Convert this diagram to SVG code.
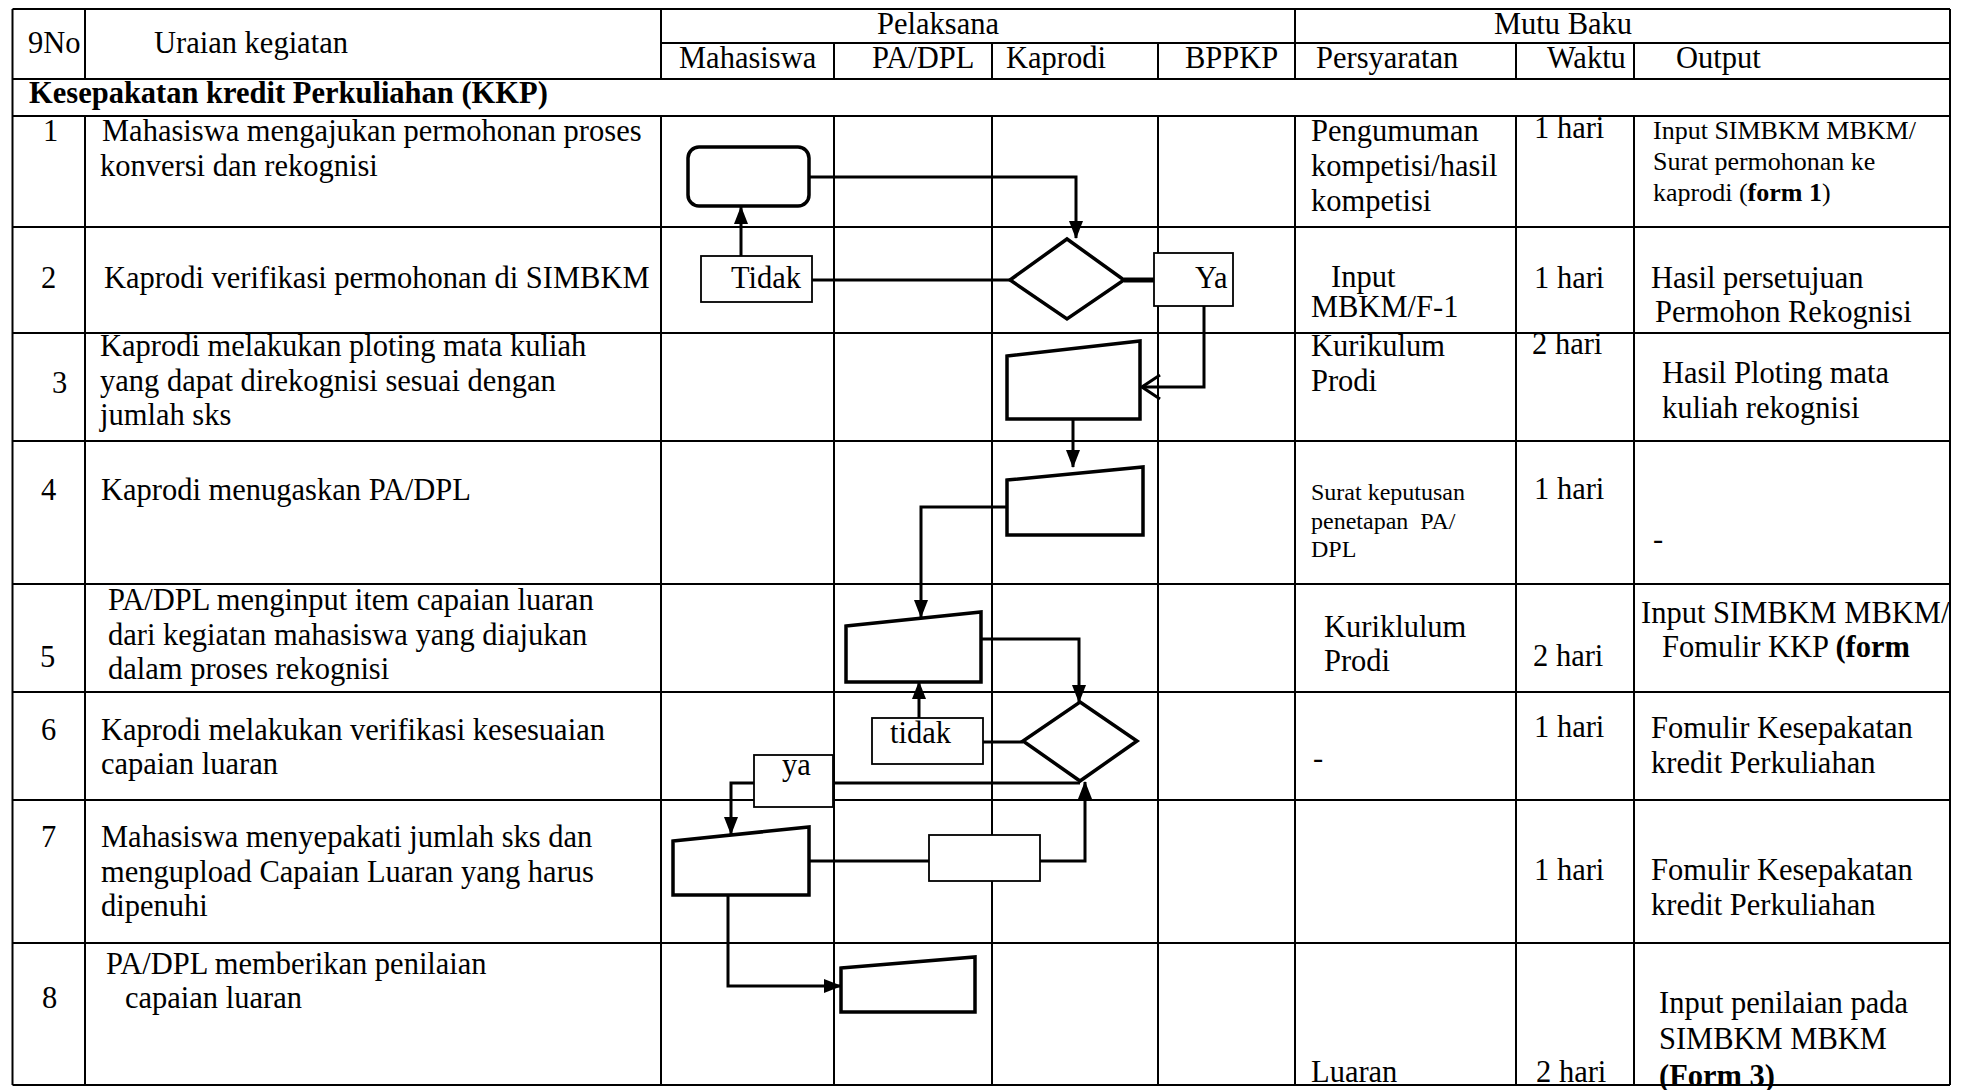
<svg xmlns="http://www.w3.org/2000/svg" width="1962" height="1090" viewBox="0 0 1962 1090">
<style>
text{font-family:"Liberation Serif","Times New Roman",serif;fill:#000}
.t{font-size:30.5px}
.s{font-size:26px}
.xs{font-size:24px}
.b{font-weight:bold}
.grid line{stroke:#000;stroke-width:2}
.shape{fill:#fff;stroke:#000;stroke-width:3.5}
.lbl{fill:#fff;stroke:#000;stroke-width:1.8}
.conn path{fill:none;stroke:#000;stroke-width:3}
</style>
<defs>
<marker id="arr" viewBox="0 0 18 14" refX="17" refY="7" markerWidth="18" markerHeight="14" markerUnits="userSpaceOnUse" orient="auto"><path d="M0,0 L18,7 L0,14 z" fill="#000"/></marker>
<marker id="open" viewBox="0 0 20 26" refX="19" refY="13" markerWidth="20" markerHeight="26" markerUnits="userSpaceOnUse" orient="auto"><path d="M1,1 L19,13 L1,25" fill="none" stroke="#000" stroke-width="3"/></marker>
</defs>
<rect width="1962" height="1090" fill="#fff"/>

<g class="grid">
<line x1="12.5" y1="9" x2="12.5" y2="1085"/>
<line x1="1950" y1="9" x2="1950" y2="1085"/>
<line x1="85" y1="9" x2="85" y2="78"/><line x1="85" y1="116" x2="85" y2="1085"/>
<line x1="661" y1="9" x2="661" y2="78"/><line x1="661" y1="116" x2="661" y2="1085"/>
<line x1="834" y1="43" x2="834" y2="78"/><line x1="834" y1="116" x2="834" y2="1085"/>
<line x1="992" y1="43" x2="992" y2="78"/><line x1="992" y1="116" x2="992" y2="1085"/>
<line x1="1158" y1="43" x2="1158" y2="78"/><line x1="1158" y1="116" x2="1158" y2="1085"/>
<line x1="1295" y1="9" x2="1295" y2="78"/><line x1="1295" y1="116" x2="1295" y2="1085"/>
<line x1="1516" y1="43" x2="1516" y2="78"/><line x1="1516" y1="116" x2="1516" y2="1085"/>
<line x1="1634" y1="43" x2="1634" y2="78"/><line x1="1634" y1="116" x2="1634" y2="1085"/>
<line x1="12.5" y1="9" x2="1950" y2="9"/>
<line x1="661" y1="43" x2="1950" y2="43"/>
<line x1="12.5" y1="79" x2="1950" y2="79"/>
<line x1="12.5" y1="116" x2="1950" y2="116"/>
<line x1="12.5" y1="227" x2="1950" y2="227"/>
<line x1="12.5" y1="333" x2="1950" y2="333"/>
<line x1="12.5" y1="441" x2="1950" y2="441"/>
<line x1="12.5" y1="584" x2="1950" y2="584"/>
<line x1="12.5" y1="692" x2="1950" y2="692"/>
<line x1="12.5" y1="800" x2="1950" y2="800"/>
<line x1="12.5" y1="943" x2="1950" y2="943"/>
<line x1="12.5" y1="1085" x2="1950" y2="1085"/>
</g>

<g id="header">
<text class="t" x="28" y="53">9No</text>
<text class="t" x="154" y="53">Uraian kegiatan</text>
<text class="t" x="938" y="34" text-anchor="middle">Pelaksana</text>
<text class="t" x="1563" y="34" text-anchor="middle">Mutu Baku</text>
<text class="t" x="679" y="68">Mahasiswa</text>
<text class="t" x="872" y="68">PA/DPL</text>
<text class="t" x="1006" y="68">Kaprodi</text>
<text class="t" x="1185" y="68">BPPKP</text>
<text class="t" x="1316" y="68">Persyaratan</text>
<text class="t" x="1547" y="68">Waktu</text>
<text class="t" x="1676" y="68">Output</text>
<text class="t b" x="29" y="103">Kesepakatan kredit Perkuliahan (KKP)</text>
</g>

<g id="row1-text">
<text class="t" x="43" y="141">1</text>
<text class="t" x="102" y="141">Mahasiswa mengajukan permohonan proses</text>
<text class="t" x="100" y="176">konversi dan rekognisi</text>
<text class="t" x="1311" y="141">Pengumuman</text>
<text class="t" x="1311" y="176">kompetisi/hasil</text>
<text class="t" x="1311" y="211">kompetisi</text>
<text class="t" x="1534" y="138">1 hari</text>
<text class="s" x="1653" y="139">Input SIMBKM MBKM/</text>
<text class="s" x="1653" y="170">Surat permohonan ke</text>
<text class="s" x="1653" y="201">kaprodi (<tspan class="b">form 1</tspan>)</text>
</g>
<g id="row2-text">
<text class="t" x="41" y="288">2</text>
<text class="t" x="104" y="288">Kaprodi verifikasi permohonan di SIMBKM</text>
<text class="t" x="1331" y="287">Input</text>
<text class="t" x="1311" y="317">MBKM/F-1</text>
<text class="t" x="1534" y="288">1 hari</text>
<text class="t" x="1651" y="288">Hasil persetujuan</text>
<text class="t" x="1655" y="322">Permohon Rekognisi</text>
</g>
<g id="row3-text">
<text class="t" x="52" y="393">3</text>
<text class="t" x="100" y="356">Kaprodi melakukan ploting mata kuliah</text>
<text class="t" x="100" y="391">yang dapat direkognisi sesuai dengan</text>
<text class="t" x="100" y="425">jumlah sks</text>
<text class="t" x="1311" y="356">Kurikulum</text>
<text class="t" x="1311" y="391">Prodi</text>
<text class="t" x="1532" y="354">2 hari</text>
<text class="t" x="1662" y="383">Hasil Ploting mata</text>
<text class="t" x="1662" y="418">kuliah rekognisi</text>
</g>
<g id="row4-text">
<text class="t" x="41" y="500">4</text>
<text class="t" x="101" y="500">Kaprodi menugaskan PA/DPL</text>
<text class="xs" x="1311" y="500">Surat keputusan</text>
<text class="xs" x="1311" y="529" xml:space="preserve">penetapan  PA/</text>
<text class="xs" x="1311" y="557">DPL</text>
<text class="t" x="1534" y="499">1 hari</text>
<text class="t" x="1653" y="549">-</text>
</g>
<g id="row5-text">
<text class="t" x="40" y="667">5</text>
<text class="t" x="108" y="610">PA/DPL menginput item capaian luaran</text>
<text class="t" x="108" y="645">dari kegiatan mahasiswa yang diajukan</text>
<text class="t" x="108" y="679">dalam proses rekognisi</text>
<text class="t" x="1324" y="637">Kuriklulum</text>
<text class="t" x="1324" y="671">Prodi</text>
<text class="t" x="1533" y="666">2 hari</text>
<text class="t" x="1641" y="623">Input SIMBKM MBKM/</text>
<text class="t" x="1662" y="657">Fomulir KKP <tspan class="b">(form</tspan></text>
</g>
<g id="row6-text">
<text class="t" x="41" y="740">6</text>
<text class="t" x="101" y="740">Kaprodi melakukan verifikasi kesesuaian</text>
<text class="t" x="101" y="774">capaian luaran</text>
<text class="t" x="1313" y="768">-</text>
<text class="t" x="1534" y="737">1 hari</text>
<text class="t" x="1651" y="738">Fomulir Kesepakatan</text>
<text class="t" x="1651" y="773">kredit Perkuliahan</text>
</g>
<g id="row7-text">
<text class="t" x="41" y="847">7</text>
<text class="t" x="101" y="847">Mahasiswa menyepakati jumlah sks dan</text>
<text class="t" x="101" y="882">mengupload Capaian Luaran yang harus</text>
<text class="t" x="101" y="916">dipenuhi</text>
<text class="t" x="1534" y="880">1 hari</text>
<text class="t" x="1651" y="880">Fomulir Kesepakatan</text>
<text class="t" x="1651" y="915">kredit Perkuliahan</text>
</g>
<g id="row8-text">
<text class="t" x="42" y="1008">8</text>
<text class="t" x="106" y="974">PA/DPL memberikan penilaian</text>
<text class="t" x="125" y="1008">capaian luaran</text>
<text class="t" x="1311" y="1082">Luaran</text>
<text class="t" x="1536" y="1082">2 hari</text>
<text class="t" x="1659" y="1013">Input penilaian pada</text>
<text class="t" x="1659" y="1049">SIMBKM MBKM</text>
<text class="t b" x="1659" y="1086">(Form 3)</text>
</g>

<g id="connectors" class="conn">
<path d="M810,177 H1076 V238" marker-end="url(#arr)"/>
<path d="M741,256 V207" marker-end="url(#arr)"/>
<path d="M812,280 H1010"/>
<path d="M1124,280 H1154" style="stroke-width:5"/>
<path d="M1204,306 V387 H1142" marker-end="url(#open)"/>
<path d="M1073,419 V467" marker-end="url(#arr)"/>
<path d="M1007,507 H921 V617" marker-end="url(#arr)"/>
<path d="M981,639 H1079 V702" marker-end="url(#arr)"/>
<path d="M919,718 V682" marker-end="url(#arr)"/>
<path d="M983,742 H1023"/>
<path d="M833,783 H1080"/>
<path d="M754,783 H731 V834" marker-end="url(#arr)"/>
<path d="M809,861 H929"/>
<path d="M1040,861 H1085 V782" marker-end="url(#arr)"/>
<path d="M728,895 V986 H841" marker-end="url(#arr)"/>
</g>

<g id="n1-start"><rect class="shape" x="688" y="147" width="121" height="59" rx="11"/></g>
<g id="n2-decision"><polygon class="shape" points="1067,239 1124,280 1067,319 1010,280"/></g>
<g id="n2-tidak"><rect class="lbl" x="701" y="256" width="111" height="46"/><text class="t" x="731" y="288">Tidak</text></g>
<g id="n2-ya"><rect class="lbl" x="1154" y="253" width="79" height="53"/><text class="t" x="1195" y="288">Ya</text></g>
<g id="n3-ploting"><polygon class="shape" points="1007,356 1140,341 1140,419 1007,419"/></g>
<g id="n4-tugas"><polygon class="shape" points="1007,480 1143,467 1143,535 1007,535"/></g>
<g id="n5-input"><polygon class="shape" points="846,626 981,612 981,682 846,682"/></g>
<g id="n6-decision"><polygon class="shape" points="1080,702 1137,741 1080,781 1023,741"/></g>
<g id="n6-tidak"><rect class="lbl" x="872" y="718" width="111" height="46"/><text class="t" x="890" y="743">tidak</text></g>
<g id="n6-ya"><rect class="lbl" x="754" y="755" width="79" height="52"/><text class="t" x="782" y="775">ya</text></g>
<g id="n7-sepakat"><polygon class="shape" points="673,841 809,827 809,895 673,895"/></g>
<g id="n7-box"><rect class="lbl" x="929" y="835" width="111" height="46"/></g>
<g id="n8-nilai"><polygon class="shape" points="841,968 975,957 975,1012 841,1012"/></g>
</svg>
